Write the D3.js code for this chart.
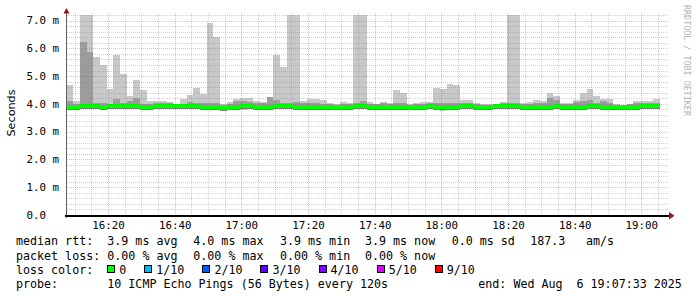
<!DOCTYPE html>
<html>
<head>
<meta charset="utf-8">
<script src="https://cdn.jsdelivr.net/npm/d3@7/dist/d3.min.js"></script>
<style>
  html, body { margin: 0; padding: 0; background: #fff; }
  svg { display: block; }
  text { white-space: pre; }
</style>
</head>
<body>
<div id="chart"></div>
<script>
// Smokeping style latency graph, 3 hours of 2 min steps (values in ms)
const startTime = new Date(2025, 7, 6, 16, 7, 33);
const endTime = new Date(2025, 7, 6, 19, 7, 33);
const stepMinutes = 2;

// outermost smoke: slowest ping of each step
const pingMax = [
  4.68, 4.11, 7.30, 7.30, 5.69, 5.40, 4.54, 5.77, 5.08, 4.28,
  4.86, 4.50, 4.10, 4.12, 4.10, 4.07, 4.00, 4.19, 4.32, 4.58,
  4.37, 6.92, 6.42, 3.98, 4.07, 4.18, 4.20, 4.21, 4.10, 4.08,
  4.24, 5.77, 5.32, 7.30, 7.30, 4.10, 4.16, 4.16, 4.13, 4.02,
  4.00, 4.07, 4.02, 7.30, 7.30, 4.07, 4.00, 4.07, 4.02, 4.50,
  4.40, 4.00, 4.02, 4.07, 4.07, 4.58, 4.54, 4.71, 4.67, 4.14,
  4.14, 4.02, 4.00, 3.99, 3.98, 4.07, 7.30, 7.30, 4.02, 4.07,
  4.13, 4.10, 4.40, 4.28, 4.02, 4.02, 4.14, 4.40, 4.54, 4.28,
  4.18, 4.18, 4.00, 3.97, 4.00, 4.10, 4.10, 4.10, 4.18
];
// fastest ping of each step
const pingMin = [
  3.84, 3.78, 3.85, 3.85, 3.84, 3.84, 3.85, 3.83, 3.83, 3.82,
  3.83, 3.84, 3.84, 3.84, 3.85, 3.85, 3.86, 3.84, 3.83, 3.82,
  3.82, 3.80, 3.81, 3.80, 3.81, 3.82, 3.78, 3.82, 3.83, 3.84,
  3.82, 3.83, 3.83, 3.82, 3.81, 3.78, 3.79, 3.82, 3.83, 3.83,
  3.82, 3.82, 3.83, 3.84, 3.83, 3.82, 3.83, 3.83, 3.83, 3.82,
  3.81, 3.81, 3.83, 3.83, 3.84, 3.80, 3.76, 3.78, 3.82, 3.84,
  3.84, 3.82, 3.82, 3.83, 3.84, 3.84, 3.84, 3.84, 3.83, 3.82,
  3.80, 3.81, 3.82, 3.82, 3.83, 3.83, 3.81, 3.82, 3.83, 3.83,
  3.82, 3.82, 3.83, 3.81, 3.82, 3.83, 3.82, 3.83, 3.84
];
// inner smoke band (2nd / 9th ping)
const innerHi = [
  4.10, 4.00, 6.23, 5.87, 4.05, 4.05, 4.00, 4.17, 4.02, 4.12,
  4.22, 4.00, 4.00, 4.02, 4.03, 4.02, 3.98, 4.00, 4.07, 4.03,
  4.02, 4.05, 4.03, 3.96, 3.98, 4.10, 4.12, 4.07, 4.03, 4.02,
  4.24, 4.14, 4.05, 4.04, 4.08, 4.05, 4.02, 4.02, 4.00, 3.98,
  3.97, 4.00, 3.98, 4.03, 4.12, 4.00, 3.98, 4.02, 3.98, 4.02,
  4.02, 3.97, 3.98, 4.00, 4.02, 4.02, 4.05, 4.02, 4.04, 4.03,
  4.02, 4.00, 3.97, 3.97, 3.96, 4.02, 4.05, 4.05, 3.98, 4.00,
  4.02, 4.02, 4.20, 4.14, 3.98, 3.98, 4.07, 4.10, 4.14, 4.05,
  4.10, 4.05, 3.97, 3.96, 3.98, 4.02, 4.02, 4.03, 4.05
];
const innerLo = [
  3.86, 3.86, 3.87, 3.87, 3.87, 3.86, 3.86, 3.88, 3.87, 3.85,
  3.86, 3.86, 3.86, 3.87, 3.88, 3.88, 3.88, 3.87, 3.86, 3.86,
  3.85, 3.84, 3.84, 3.83, 3.84, 3.85, 3.85, 3.86, 3.86, 3.86,
  3.84, 3.86, 3.87, 3.86, 3.85, 3.84, 3.84, 3.85, 3.86, 3.85,
  3.84, 3.84, 3.86, 3.87, 3.86, 3.86, 3.86, 3.86, 3.86, 3.85,
  3.84, 3.85, 3.86, 3.86, 3.87, 3.85, 3.84, 3.84, 3.85, 3.87,
  3.87, 3.86, 3.85, 3.86, 3.87, 3.88, 3.88, 3.87, 3.86, 3.85,
  3.84, 3.84, 3.86, 3.86, 3.86, 3.86, 3.85, 3.86, 3.87, 3.87,
  3.86, 3.85, 3.85, 3.84, 3.85, 3.86, 3.86, 3.87, 3.87
];
// median rtt, no loss anywhere so all green
const median = [
  3.90, 3.90, 3.91, 3.91, 3.91, 3.90, 3.91, 3.93, 3.92, 3.91,
  3.91, 3.90, 3.90, 3.92, 3.93, 3.93, 3.92, 3.92, 3.91, 3.91,
  3.90, 3.89, 3.88, 3.87, 3.88, 3.90, 3.91, 3.91, 3.90, 3.90,
  3.88, 3.91, 3.92, 3.91, 3.90, 3.89, 3.89, 3.90, 3.90, 3.89,
  3.88, 3.88, 3.90, 3.91, 3.91, 3.90, 3.90, 3.90, 3.90, 3.90,
  3.89, 3.90, 3.90, 3.90, 3.91, 3.89, 3.89, 3.89, 3.90, 3.91,
  3.91, 3.90, 3.89, 3.90, 3.91, 3.92, 3.92, 3.91, 3.90, 3.90,
  3.89, 3.88, 3.90, 3.91, 3.90, 3.90, 3.89, 3.90, 3.91, 3.91,
  3.90, 3.89, 3.89, 3.88, 3.89, 3.90, 3.91, 3.91, 3.91
];

const yTickValues = [0, 1, 2, 3, 4, 5, 6, 7];
const yTickLabels = ['0.0', '1.0 m', '2.0 m', '3.0 m', '4.0 m', '5.0 m', '6.0 m', '7.0 m'];

const lossLabels = ['0', '1/10', '2/10', '3/10', '4/10', '5/10', '9/10'];
const lossColors = ['#00ff00', '#00b8ff', '#0059ff', '#5e00ff', '#7e00ff', '#dd00ff', '#ff0000'];

const rttLegend = ['median rtt:', '3.9 ms avg', '4.0 ms max', '3.9 ms min', '3.9 ms now', '0.0 ms sd', '187.3', 'am/s'];
const lossLegend = ['packet loss:', '0.00 % avg', '0.00 % max', '0.00 % min', '0.00 % now'];

const width = 697;
const height = 297;
const plotLeft = 66.5, plotRight = 669, plotTop = 15, plotBottom = 215;
const mono = '"DejaVu Sans Mono", "Liberation Mono", monospace';

const x = d3.scaleTime().domain([startTime, endTime]).range([plotLeft, plotLeft + 600]);
const y = d3.scaleLinear().domain([0, 7.2]).range([plotBottom, plotTop]);

const steps = median.map((m, i) => ({
  t0: d3.timeMinute.offset(startTime, i * stepMinutes),
  t1: d3.timeMinute.offset(startTime, (i + 1) * stepMinutes),
  max: pingMax[i], min: pingMin[i], hi: innerHi[i], lo: innerLo[i], med: m
}));

const svg = d3.select('#chart').append('svg')
    .attr('width', width)
    .attr('height', height);

svg.append('rect').attr('width', width).attr('height', height).attr('fill', '#fff');

svg.append('clipPath').attr('id', 'plot')
  .append('rect').attr('x', plotLeft).attr('y', plotTop)
  .attr('width', plotRight - plotLeft).attr('height', plotBottom - plotTop);

const plot = svg.append('g').attr('clip-path', 'url(#plot)');

// smoke layers
function band(lo, hi, fill) {
  plot.append('g').selectAll('rect')
    .data(steps)
    .enter().append('rect')
      .attr('x', d => x(d.t0))
      .attr('width', d => x(d.t1) - x(d.t0))
      .attr('y', d => y(Math.min(d[hi], 7.3)))
      .attr('height', d => Math.max(0, y(d[lo]) - y(Math.min(d[hi], 7.3))))
      .attr('fill', fill)
      .attr('shape-rendering', 'crispEdges');
}
band('min', 'max', '#c8c8c8');
band('lo', 'hi', '#9c9c9c');

// thin darker core just under the median
plot.append('g').selectAll('rect')
  .data(steps)
  .enter().append('rect')
    .attr('x', d => x(d.t0))
    .attr('width', d => x(d.t1) - x(d.t0))
    .attr('y', d => y(d.med) + 1.5)
    .attr('height', 1.5)
    .attr('fill', '#7a7a7a')
    .attr('shape-rendering', 'crispEdges');

// median band, coloured by loss (all 0 here)
plot.append('g').selectAll('rect')
  .data(steps)
  .enter().append('rect')
    .attr('x', d => x(d.t0))
    .attr('width', d => x(d.t1) - x(d.t0))
    .attr('y', d => y(d.med) - 2)
    .attr('height', 4)
    .attr('fill', lossColors[0])
    .attr('shape-rendering', 'crispEdges');

// grid on top, dotted like rrdtool
const grid = svg.append('g').attr('shape-rendering', 'crispEdges');
const minorY = d3.range(1, 37).map(k => k * 0.2).filter(v => Math.abs(v - Math.round(v)) > 0.01);
const minorX = x.ticks(d3.timeMinute.every(5)).filter(t => t.getMinutes() % 20 !== 0);
const majorX = x.ticks(d3.timeMinute.every(20));

grid.selectAll('line.hminor').data(minorY).enter().append('line')
    .attr('x1', plotLeft).attr('x2', plotRight)
    .attr('y1', d => Math.round(y(d)) + 0.5).attr('y2', d => Math.round(y(d)) + 0.5)
    .attr('stroke', 'rgba(140,140,140,0.4)').attr('stroke-dasharray', '1,1');
grid.selectAll('line.vminor').data(minorX).enter().append('line')
    .attr('x1', d => Math.round(x(d)) + 0.5).attr('x2', d => Math.round(x(d)) + 0.5)
    .attr('y1', plotTop - 2).attr('y2', plotBottom)
    .attr('stroke', 'rgba(140,140,140,0.4)').attr('stroke-dasharray', '1,1');
grid.selectAll('line.hmajor').data(yTickValues.slice(1)).enter().append('line')
    .attr('x1', plotLeft).attr('x2', plotRight)
    .attr('y1', d => Math.round(y(d)) + 0.5).attr('y2', d => Math.round(y(d)) + 0.5)
    .attr('stroke', 'rgba(220,50,50,0.35)').attr('stroke-dasharray', '1,1');
grid.selectAll('line.vmajor').data(majorX).enter().append('line')
    .attr('x1', d => Math.round(x(d)) + 0.5).attr('x2', d => Math.round(x(d)) + 0.5)
    .attr('y1', plotTop - 2).attr('y2', plotBottom)
    .attr('stroke', 'rgba(220,50,50,0.35)').attr('stroke-dasharray', '1,1');

// axes
const axes = svg.append('g').attr('shape-rendering', 'crispEdges');
axes.append('line').attr('x1', plotLeft).attr('x2', plotLeft).attr('y1', plotBottom + 3).attr('y2', 10)
    .attr('stroke', '#606060');
axes.append('rect').attr('x', plotLeft - 2).attr('y', plotBottom)
    .attr('width', plotRight + 2 - (plotLeft - 2)).attr('height', 1.6)
    .attr('fill', '#000');
svg.append('path').attr('d', `M${plotLeft - 3},13.5L${plotLeft},8L${plotLeft + 3},13.5Z`).attr('fill', '#8b1a1a');
svg.append('path').attr('d', `M${plotRight},212L${plotRight + 5.5},215.8L${plotRight},219.5Z`).attr('fill', '#8b1a1a');

// y tick labels
svg.append('g').selectAll('text')
  .data(yTickValues)
  .enter().append('text')
    .attr('x', 26.5)
    .attr('y', d => y(d) + 3.8)
    .attr('font-family', mono).attr('font-size', '10.8px').attr('fill', '#000')
    .text((d, i) => yTickLabels[i]);

// x tick labels
svg.append('g').selectAll('text')
  .data(majorX)
  .enter().append('text')
    .attr('x', d => x(d) + 0.5)
    .attr('y', 228.5)
    .attr('text-anchor', 'middle')
    .attr('font-family', mono).attr('font-size', '10.8px').attr('fill', '#000')
    .text(d3.timeFormat('%H:%M'));

svg.append('text')
    .attr('transform', 'translate(14.5,113) rotate(-90)')
    .attr('text-anchor', 'middle')
    .attr('font-family', '"DejaVu Sans", sans-serif').attr('font-size', '11.2px')
    .text('Seconds');

svg.append('text')
    .attr('transform', 'translate(684,5) rotate(90)')
    .attr('font-family', mono).attr('font-size', '8.4px').attr('fill', '#b4b4b4')
    .text('RRDTOOL / TOBI OETIKER');

// legend
const legend = svg.append('g').attr('font-family', mono).attr('font-size', '11.66px').attr('fill', '#000');
const itemX = [16, 107.3, 193.3, 280, 365, 451.7, 530.3, 586];
const lineY = [245.3, 259.5, 273.7, 287.9];

legend.selectAll('text.rtt').data(rttLegend).enter().append('text')
    .attr('x', (d, i) => itemX[i]).attr('y', lineY[0]).text(d => d);
legend.selectAll('text.loss').data(lossLegend).enter().append('text')
    .attr('x', (d, i) => itemX[i]).attr('y', lineY[1]).text(d => d);

legend.append('text').attr('x', 16).attr('y', lineY[2]).text('loss color:');
let cursor = 107.3;
lossLabels.forEach((lab, i) => {
  legend.append('rect')
      .attr('x', Math.round(cursor) + 0.5).attr('y', 265.5)
      .attr('width', 7).attr('height', 7)
      .attr('fill', lossColors[i]).attr('stroke', '#000');
  legend.append('text').attr('x', cursor + 12).attr('y', lineY[2]).text(lab);
  cursor += 12 + lab.length * 7.02 + 18;
});

legend.append('text').attr('x', 16).attr('y', lineY[3]).text('probe:');
legend.append('text').attr('x', 107.3).attr('y', lineY[3]).text('10 ICMP Echo Pings (56 Bytes) every 120s');
legend.append('text').attr('x', 478.3).attr('y', lineY[3]).text('end: Wed Aug  6 19:07:33 2025');
</script>
</body>
</html>
